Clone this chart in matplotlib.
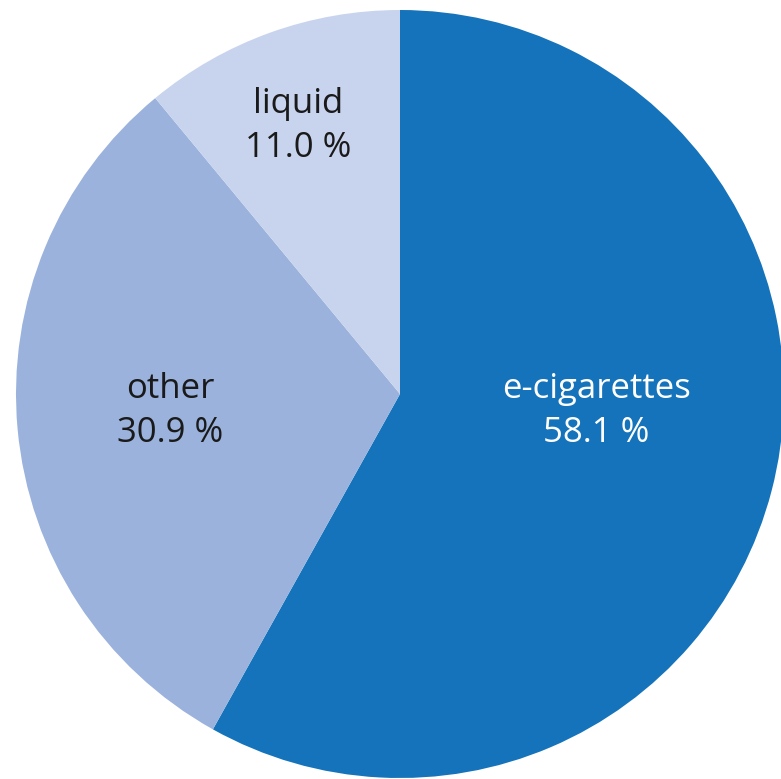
import matplotlib.pyplot as plt

# data
labels = ['e-cigarettes', 'other', 'liquid']
shares = [58.1, 30.9, 11.0]
colors = ['#1473ba', '#9ab2dc', '#c8d4ee']
text_colors = ['white', '#1a1a1a', '#1a1a1a']

# label positions in pixel coords (x, baseline of last line from top)
label_pos = [(596, 442), (170, 442), (298, 157)]

W, H = 781, 779
fig = plt.figure(figsize=(W / 100, H / 100), dpi=100)
ax = fig.add_axes([0, 0, 1, 1])
ax.set_xlim(0, W)
ax.set_ylim(0, H)
ax.set_aspect('equal')
ax.axis('off')

ax.pie(shares, colors=colors, startangle=90, counterclock=False,
       center=(400, H - 394), radius=384,
       wedgeprops=dict(linewidth=0))
ax.set_xlim(0, W)
ax.set_ylim(0, H)

for lab, val, (x, y), tc in zip(labels, shares, label_pos, text_colors):
    ax.text(x, H - y, f"{lab}\n{val:.1f} %", ha='center', va='baseline',
            fontsize=25, family='Open Sans', color=tc, linespacing=1.4)

fig.savefig('out.png', dpi=100)
